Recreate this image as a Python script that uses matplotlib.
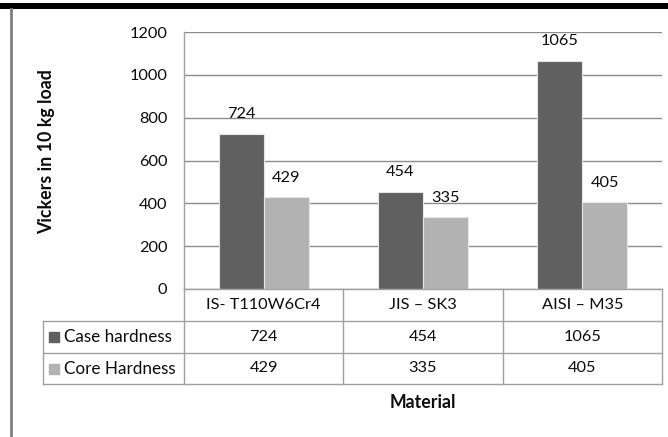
import matplotlib
matplotlib.use('Agg')
import matplotlib.pyplot as plt
from matplotlib.patches import Rectangle
import numpy as np

# hardness values (Vickers, 10 kg load)
materials = ['IS- T110W6Cr4', 'JIS \u2013 SK3', 'AISI \u2013 M35']
series_names = ['Case hardness', 'Core Hardness']
case_hardness = [724, 454, 1065]
core_hardness = [429, 335, 405]
yticks = [0, 200, 400, 600, 800, 1000, 1200]

colors = ['#606060', '#b2b2b2']
grid_color = '#8c8c8c'
table_color = '#a0a0a0'
text_color = '#0d0d0d'

plt.rcParams['font.family'] = ['Lato', 'DejaVu Sans']

W, H = 668, 437
fig = plt.figure(figsize=(W / 100, H / 100), dpi=100)

# pixel layout of the plot area
left, right, top, bottom = 184, 662, 32, 289
ax = fig.add_axes([left / W, 1 - bottom / H, (right - left) / W, (bottom - top) / H])

x = np.arange(len(materials))
bw = 0.283
for i, vals in enumerate([case_hardness, core_hardness]):
    offs = (i - 0.5) * bw
    bars = ax.bar(x + offs, vals, width=bw, color=colors[i],
                  edgecolor='#e6e6e6', linewidth=0.8, zorder=3)
    for b, v in zip(bars, vals):
        ax.annotate(str(v), (b.get_x() + b.get_width() / 2, v),
                    xytext=(0, 14), textcoords='offset points',
                    ha='center', va='center', fontsize=11.8, color=text_color)

ax.set_xlim(-0.5, len(materials) - 0.5)
ax.set_ylim(0, 1200)
ax.set_yticks(yticks)
ax.set_yticklabels([str(t) for t in yticks], fontsize=11.8, color=text_color)
ax.tick_params(axis='y', length=0, pad=12)
ax.set_xticks([])
ax.yaxis.grid(True, color=grid_color, linewidth=1)
ax.set_axisbelow(True)
for s in ['top', 'right', 'bottom']:
    ax.spines[s].set_visible(False)
ax.spines['left'].set_color(table_color)
ax.spines['left'].set_linewidth(1)

# frame: thick rule on top, thin rule on the left
ov = fig.add_axes([0, 0, 1, 1], zorder=-1)
ov.set_xlim(0, W)
ov.set_ylim(H, 0)
ov.axis('off')

ov.fill_between([0, W], 3, 9, color='black', lw=0)
ov.plot([11, 11], [9, H], color='#808080', lw=2)

# data table under the plot, in pixel coordinates
ov2 = fig.add_axes([0, 0, 1, 1])
ov2.set_xlim(0, W)
ov2.set_ylim(H, 0)
ov2.axis('off')
ov2.patch.set_alpha(0)

rows = [289, 321, 353, 384]
col_w = (right - left) / len(materials)
cols = [left + k * col_w for k in range(len(materials) + 1)]
tleft = 43
lw_t = 1

ov2.plot([left, right], [rows[0], rows[0]], color=table_color, lw=lw_t)
for r in rows[1:]:
    ov2.plot([tleft, right], [r, r], color=table_color, lw=lw_t)
for c in cols:
    ov2.plot([c, c], [rows[0], rows[-1]], color=table_color, lw=lw_t)
ov2.plot([tleft, tleft], [rows[1], rows[-1]], color=table_color, lw=lw_t)

for k, m in enumerate(materials):
    cx = cols[k] + col_w / 2
    ov2.text(cx, (rows[0] + rows[1]) / 2, m, ha='center', va='center',
             fontsize=11.8, color=text_color)
    for j, vals in enumerate([case_hardness, core_hardness]):
        ov2.text(cx, (rows[j + 1] + rows[j + 2]) / 2, str(vals[k]), ha='center',
                 va='center', fontsize=11.8, color=text_color)

for j, name in enumerate(series_names):
    cy = (rows[j + 1] + rows[j + 2]) / 2
    ov2.add_patch(Rectangle((49, cy - 5), 10, 10, color=colors[j]))
    ov2.text(64, cy, name, ha='left', va='center', fontsize=12.3, color=text_color)

ov2.text(47, 152, 'Vickers in 10 kg load', rotation=90, ha='center', va='center',
         fontsize=12.8, fontweight='bold', color=text_color)
ov2.text((left + right) / 2, 403, 'Material', ha='center', va='center',
         fontsize=12.8, fontweight='bold', color=text_color)

fig.savefig('out.png', dpi=100)
